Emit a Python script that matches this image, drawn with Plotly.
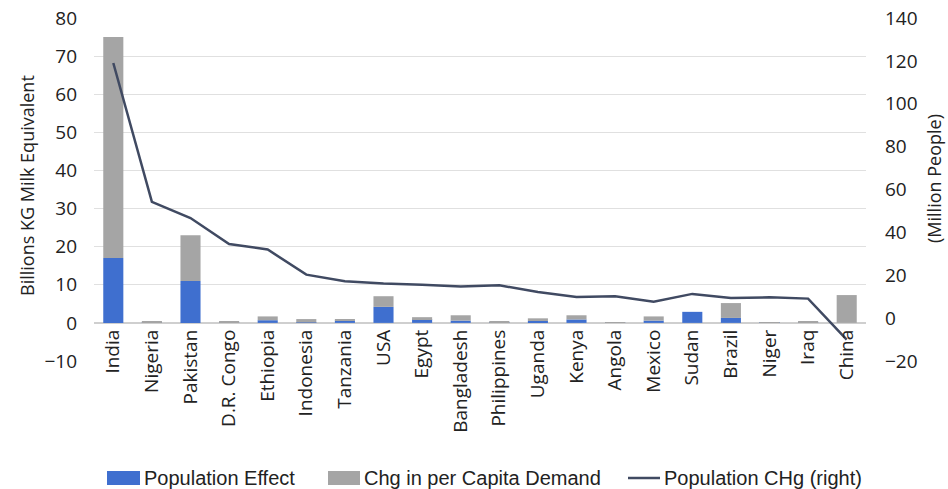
import plotly.graph_objects as go

countries = ["India", "Nigeria", "Pakistan", "D.R. Congo", "Ethiopia", "Indonesia",
             "Tanzania", "USA", "Egypt", "Bangladesh", "Philippines", "Uganda",
             "Kenya", "Angola", "Mexico", "Sudan", "Brazil", "Niger", "Iraq", "China"]

# Billions KG milk equivalent
population_effect = [17.0, 0.1, 11.0, 0.1, 0.7, 0.1, 0.6, 4.2, 1.0, 0.6,
                     0.1, 0.5, 0.9, 0.05, 0.6, 2.9, 1.3, 0.05, 0.1, 0.0]
per_capita_chg = [58.0, 0.3, 12.0, 0.2, 1.0, 0.9, 0.3, 2.8, 0.5, 1.4,
                  0.4, 0.7, 1.1, 0.05, 1.1, 0.0, 3.9, 0.05, 0.2, 7.3]

# Million people
population_chg = [119.0, 54.2, 46.7, 34.6, 32.0, 20.3, 17.2, 16.1, 15.6, 14.8,
                  15.3, 12.2, 9.9, 10.2, 7.6, 11.3, 9.4, 9.7, 9.1, -10.0]

left_ticks = [-10, 0, 10, 20, 30, 40, 50, 60, 70, 80]
right_ticks = [-20, 0, 20, 40, 60, 80, 100, 120, 140]

series_names = ["Population Effect", "Chg in per Capita Demand", "Population CHg (right)"]

BLUE = "#3F6FCF"
GRAY = "#A5A5A5"
LINE = "#404A62"
GRID = "#E0E0E0"
TEXT = "#222222"
TICK_FONT = dict(family="Open Sans", size=19, color=TEXT)
CAT_FONT = dict(family="Open Sans", size=19, color=TEXT)
TITLE_FONT = dict(family="Open Sans", size=18, color=TEXT)
LEGEND_FONT = dict(family="Liberation Sans Narrow, Arial Narrow, sans-serif", size=20, color=TEXT)

W, H = 948, 489
ML, MR, MT, MB = 94, 82, 18, 128
PW, PH = W - ML - MR, H - MT - MB


def px_x(px):
    return (px - ML) / PW


def px_y(py):
    return (H - MB - py) / PH


fig = go.Figure()
fig.add_trace(go.Bar(x=countries, y=population_effect, name=series_names[0],
                     marker=dict(color=BLUE, line=dict(width=0)), width=0.52))
fig.add_trace(go.Bar(x=countries, y=per_capita_chg, name=series_names[1],
                     marker=dict(color=GRAY, line=dict(width=0)), width=0.52))
fig.add_trace(go.Scatter(x=countries, y=population_chg, name=series_names[2],
                         mode="lines", line=dict(color=LINE, width=2.5), yaxis="y2"))

# Legend drawn as keys + labels along the bottom
shapes = [
    dict(type="rect", xref="paper", yref="paper",
         x0=px_x(107), x1=px_x(140), y0=px_y(485), y1=px_y(471),
         fillcolor=BLUE, line=dict(width=0)),
    dict(type="rect", xref="paper", yref="paper",
         x0=px_x(328), x1=px_x(360), y0=px_y(485), y1=px_y(471),
         fillcolor=GRAY, line=dict(width=0)),
    dict(type="line", xref="paper", yref="paper",
         x0=px_x(628), x1=px_x(660), y0=px_y(478), y1=px_y(478),
         line=dict(color=LINE, width=2.5)),
]
annotations = [
    dict(text=series_names[0], x=px_x(142), y=px_y(478), xref="paper", yref="paper",
         xanchor="left", yanchor="middle", showarrow=False, font=LEGEND_FONT),
    dict(text=series_names[1], x=px_x(362), y=px_y(478), xref="paper", yref="paper",
         xanchor="left", yanchor="middle", showarrow=False, font=LEGEND_FONT),
    dict(text=series_names[2], x=px_x(662), y=px_y(478), xref="paper", yref="paper",
         xanchor="left", yanchor="middle", showarrow=False, font=LEGEND_FONT),
    dict(text="Billions KG Milk Equivalent", x=px_x(27), y=px_y(186),
         xref="paper", yref="paper", xanchor="center", yanchor="middle",
         textangle=-90, showarrow=False, font=TITLE_FONT),
    dict(text="(Million People)", x=px_x(934), y=px_y(179),
         xref="paper", yref="paper", xanchor="center", yanchor="middle",
         textangle=-90, showarrow=False, font=TITLE_FONT),
]

fig.update_layout(
    width=W, height=H,
    margin=dict(l=ML, r=MR, t=MT, b=MB, autoexpand=False),
    barmode="relative",
    plot_bgcolor="white", paper_bgcolor="white",
    showlegend=False,
    shapes=shapes,
    annotations=annotations,
    xaxis=dict(
        type="category", anchor="free", position=10 / 90,
        tickangle=-90, tickfont=CAT_FONT, showgrid=False,
        showline=False, ticks="", ticklen=0, automargin=False,
        ticklabelstandoff=2,
    ),
    yaxis=dict(
        range=[-10, 80], tickvals=left_ticks, tickfont=TICK_FONT,
        showgrid=True, gridcolor=GRID, gridwidth=1,
        zeroline=True, zerolinecolor="#CFCFCF", zerolinewidth=1.5,
        automargin=False, ticklabelstandoff=16,
    ),
    yaxis2=dict(
        range=[-20, 140], tickvals=right_ticks, tickfont=TICK_FONT,
        overlaying="y", side="right", showgrid=False, zeroline=False,
        automargin=False, ticklabelstandoff=18,
    ),
)

fig.write_html("out.html")
